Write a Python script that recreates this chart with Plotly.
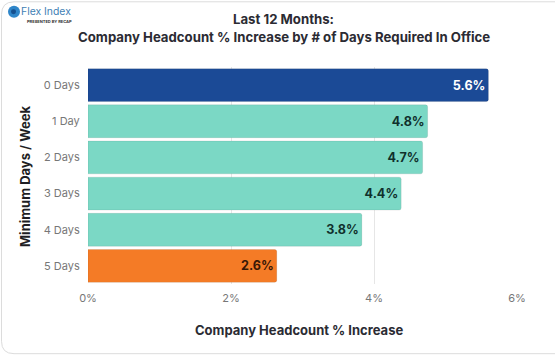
import plotly.graph_objects as go

categories = ["0 Days", "1 Day", "2 Days", "3 Days", "4 Days", "5 Days"]
values = [5.6, 4.75, 4.68, 4.38, 3.83, 2.64]
labels = ["5.6%", "4.8%", "4.7%", "4.4%", "3.8%", "2.6%"]
colors = ["#1B4A96", "#7BD8C5", "#7BD8C5", "#7BD8C5", "#7BD8C5", "#F47B26"]
label_colors = ["#FFFFFF", "#10302C", "#10302C", "#10302C", "#10302C", "#3A1806"]
tick_vals = [0, 2, 4, 6]
tick_text = ["0%", "2%", "4%", "6%"]

W, H = 555, 356
L, R, T, B = 88, 517, 66.5, 284.5
FONT = "Inter"

fig = go.Figure(go.Bar(
    y=categories, x=values, orientation="h",
    marker=dict(color=colors, cornerradius=2, line=dict(color="rgba(0,0,0,0.08)", width=1)),
    text=labels, textposition="inside", insidetextanchor="end", textangle=0,
    textfont=dict(family=FONT, size=12.6, color=label_colors, weight=700),
    cliponaxis=False, hoverinfo="skip",
))

def px(x): return (x - L) / (R - L)
def py(y): return (B - y) / (B - T)

fig.update_layout(
    width=W, height=H, paper_bgcolor="white", plot_bgcolor="white",
    margin=dict(l=L, r=W - R, t=T, b=H - B), bargap=0.09, showlegend=False,
    font=dict(family=FONT, color="#555555"),
    xaxis=dict(range=[0, 6], tickvals=tick_vals, ticktext=tick_text, showgrid=True,
               gridcolor="#E6E6E6", gridwidth=1, zeroline=False, showline=False,
               tickfont=dict(size=11, color="#777777"), ticks="outside", ticklen=4,
               tickcolor="rgba(0,0,0,0)"),
    yaxis=dict(autorange="reversed", showgrid=False, zeroline=False, showline=False,
               tickfont=dict(size=11, color="#777777"), ticks="outside", ticklen=5,
               tickcolor="rgba(0,0,0,0)"),
    shapes=[
        dict(type="path", xref="paper", yref="paper",
             path=f"M {px(1.5)} {py(14)} Q {px(1.5)} {py(1)} {px(14)} {py(1)} L {px(556)} {py(1)}"
                  f" M {px(1.5)} {py(14)} L {px(1.5)} {py(342)} Q {px(1.5)} {py(354.5)} {px(14)} {py(354.5)}"
                  f" L {px(556)} {py(354.5)}",
             line=dict(color="#DCDCDC", width=1)),
        dict(type="circle", xref="paper", yref="paper",
             x0=px(8), x1=px(20), y0=py(17), y1=py(5),
             fillcolor="#2F86C9", line=dict(color="#2F86C9", width=0)),
        dict(type="circle", xref="paper", yref="paper",
             x0=px(11), x1=px(16), y0=py(13.5), y1=py(8.5),
             fillcolor="#16508F", line=dict(width=0)),
    ],
    annotations=[
        dict(text="Last 12 Months:", xref="paper", yref="paper", x=px(283.5), y=py(18),
             showarrow=False, xanchor="center", yanchor="middle",
             font=dict(size=13.2, color="#2B2B33", weight=700)),
        dict(text="Company Headcount % Increase by # of Days Required In Office", xref="paper", yref="paper",
             x=px(283.5), y=py(36), showarrow=False, xanchor="center", yanchor="middle",
             font=dict(size=13.2, color="#2B2B33", weight=700)),
        dict(text="Flex Index", xref="paper", yref="paper", x=px(21), y=py(10.5),
             showarrow=False, xanchor="left", yanchor="middle", borderpad=0, borderwidth=0,
             font=dict(size=10.4, color="#3F7FB5")),
        dict(text="PRESENTED BY RECAP", xref="paper", yref="paper", x=px(72), y=py(20.5),
             showarrow=False, xanchor="right", yanchor="middle", borderpad=0, borderwidth=0,
             font=dict(size=4, color="#333333", weight=700)),
        dict(text="Company Headcount % Increase", xref="paper", yref="paper", x=px(298.5), y=py(331),
             showarrow=False, xanchor="center", yanchor="middle",
             font=dict(size=13, color="#2B2B33", weight=700)),
        dict(text="Minimum Days / Week", xref="paper", yref="paper", x=px(25), y=py(176),
             showarrow=False, xanchor="center", yanchor="middle", textangle=-90,
             font=dict(size=13, color="#1E1E24", weight=700)),
    ],
)

fig.write_html("out.html", config={"displayModeBar": False},
               post_script="document.body.style.margin='0';document.body.style.overflow='hidden';")
